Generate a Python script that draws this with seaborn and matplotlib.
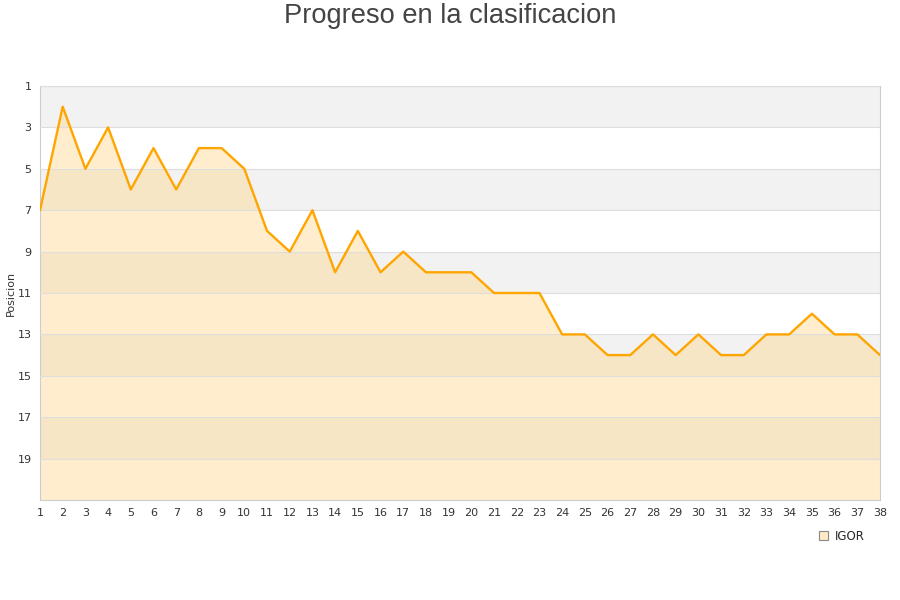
import pandas as pd
import matplotlib.pyplot as plt
import seaborn as sns
from matplotlib.patches import Patch

sns.set_style("white")
plt.rcParams['font.family'] = ['DejaVu Sans']

jornadas = list(range(1, 39))
posiciones = [7, 2, 5, 3, 6, 4, 6, 4, 4, 5, 8, 9, 7, 10, 8, 10, 9, 10, 10, 10,
              11, 11, 11, 13, 13, 14, 14, 13, 14, 13, 14, 14, 13, 13, 12, 13, 13, 14]
y_ticks = [1, 3, 5, 7, 9, 11, 13, 15, 17, 19]
equipo = "IGOR"

df = pd.DataFrame({"Jornada": jornadas, "Posicion": posiciones})

fig = plt.figure(figsize=(9, 6), dpi=100)
ax = fig.add_axes([40 / 900, 100 / 600, 840 / 900, 414 / 600])

# bandas alternas
for i, y0 in enumerate(range(1, 21, 2)):
    if i % 2 == 0:
        ax.axhspan(y0, y0 + 2, color='#f2f2f2', zorder=0, lw=0)

ax.fill_between(df["Jornada"], df["Posicion"], 21, color='#ffd68a', alpha=0.42, lw=0, zorder=1)
sns.lineplot(data=df, x="Jornada", y="Posicion", ax=ax, color='#ffa500', lw=1.7, zorder=3, legend=False)

ax.set_xlim(1, 38)
ax.set_ylim(21, 1)
ax.set_yticks(y_ticks)
ax.set_xticks(jornadas)
ax.yaxis.grid(True, color='#dddddd', lw=0.8, zorder=2)
ax.set_axisbelow(False)
for s in ax.spines.values():
    s.set_color('#cccccc')
ax.tick_params(axis='both', labelsize=8, colors='#333333', length=0, pad=6)
ax.set_xlabel("")
ax.set_ylabel("Posicion", fontsize=8, color='#333333')
ax.yaxis.set_label_coords(-0.029, 0.5)

fig.legend([Patch(facecolor='#ffebc8', edgecolor='#888888', lw=0.8)], [equipo],
           loc='center', bbox_to_anchor=(842 / 900, 1 - 536 / 600), frameon=False,
           fontsize=8.5, handlelength=0.8, handleheight=0.8, handletextpad=0.6)

fig.text(0.5, 1 - 16 / 600, "Progreso en la clasificacion", ha='center', va='center',
         fontsize=19.6, color='#444444', family='Liberation Sans')

fig.savefig("out.png", dpi=100)
